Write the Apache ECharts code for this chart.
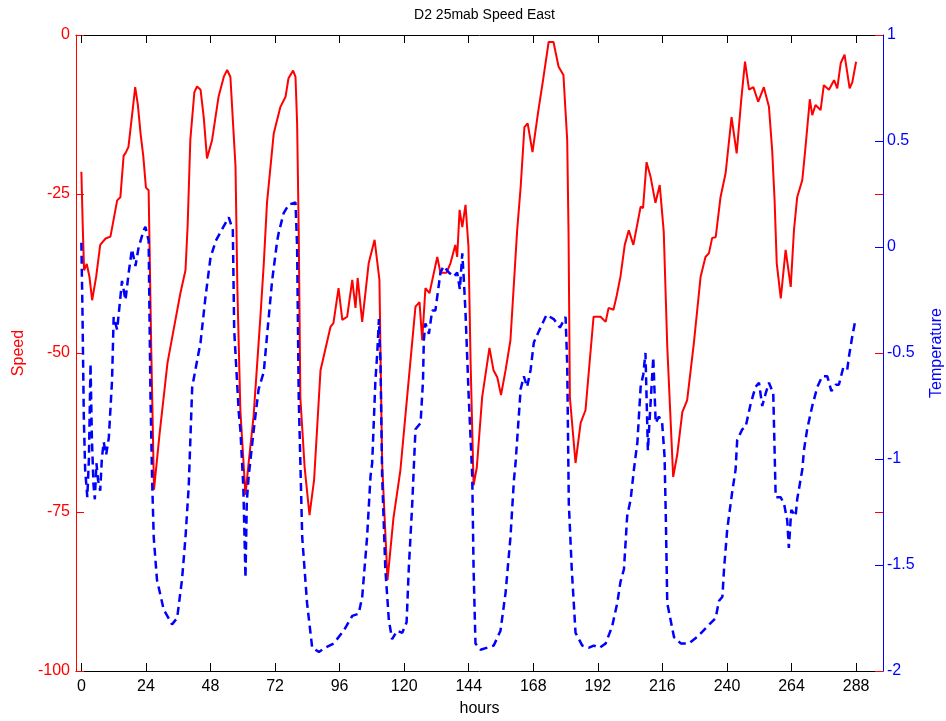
<!DOCTYPE html>
<html><head><meta charset="utf-8">
<script src="https://cdn.jsdelivr.net/npm/echarts@6/dist/echarts.min.js"></script>
<style>html,body{margin:0;padding:0;background:#fff}#c{width:946px;height:721px}</style>
</head><body><div id="c"></div><script>
const chartTitle = 'D2 25mab Speed East';
const xTicks = [0,24,48,72,96,120,144,168,192,216,240,264,288];

const speedHours = [0,0.5,1,2,3,4,5.5,7,9,10.8,12,13.3,14.5,15.7,16.5,17.5,19,20,21,22,23,24,25,26,27,29,32,34,36.8,38.7,39.5,40.5,42,43,44.3,45.5,46.7,48.6,51,53,54.2,55.4,56.6,57.3,58,59.1,61,62,64,66.6,67.8,69,71.5,74,75.9,77,78.7,79.6,80.2,80.8,81.4,83,84.8,86.5,88.9,92.6,93.7,95.6,97,98.8,100.7,101.9,102.7,104.4,106.8,109,110.8,111.8,113.8,116,118.6,121.1,124.2,125.7,126.7,127.9,129.4,132.3,133.5,135.7,137.2,139,139.7,140.6,141.6,142.8,143.9,144.7,145.8,147,149,151.7,153.2,154.6,156,157.7,159.5,162,163.3,164.7,165.9,167.7,169.9,171.8,173.7,175.5,177.4,179.2,180.6,181.1,181.6,183.7,185.6,187.4,190.4,193,194.9,196,197.8,199,200.4,202,203.5,205.2,207.9,208.8,210.1,211.6,213.4,215,215.9,216.5,217.8,220,221.5,223.4,225.2,227.7,230.2,232,233.3,234.5,235.8,237.6,239.5,241.7,243.6,245.3,246.7,248.2,249.8,251.6,253.7,255.6,256.8,257.7,258.5,260,261.8,263.7,264.9,266.1,268,269.2,270.8,271.7,272.9,274.8,276,277.9,279.8,281,282.3,283.7,285.6,286.6,288];
const speedValues = [-21.5,-30,-37,-36,-38,-41.7,-38,-33,-32,-31.7,-29,-26,-25.5,-19,-18.5,-17.6,-12,-8.2,-11,-15.5,-19,-24,-24.4,-50,-71.5,-63,-51.6,-47,-40.6,-37,-30,-16.5,-9,-8.1,-8.6,-13,-19.4,-16.5,-9.7,-6.5,-5.5,-6.6,-15.5,-20.7,-40,-59,-72.3,-68,-60,-44,-36,-26.4,-15.5,-11.3,-9.7,-6.8,-5.6,-6.6,-13.9,-31,-57,-68,-75.5,-70,-52.7,-45.9,-45.3,-39.8,-44.8,-44.3,-38.5,-42.9,-38.2,-45.1,-35.9,-32.2,-38.5,-67.3,-85.7,-76,-68.4,-56.9,-42.7,-42,-48,-39.8,-40.6,-34.9,-37.4,-37.4,-35.9,-33,-34.9,-27.5,-30.2,-26.7,-33.3,-51.6,-70.8,-68,-56.9,-49.2,-52.7,-53.8,-56.6,-52.7,-48,-30.7,-23.9,-14.5,-13.9,-18.4,-11.8,-6.6,-1.1,-1.1,-5,-6.3,-16.5,-31,-57,-67.3,-61,-59,-44.3,-44.3,-45.1,-42.9,-43.2,-41,-38,-33,-30.7,-33,-27,-27.2,-20,-22.3,-26.4,-23.6,-28,-31,-49,-69.5,-66,-59.3,-57.4,-48.4,-38,-34.9,-34.3,-31.9,-31.8,-25.5,-21.7,-12.9,-18.6,-10.2,-4.2,-8.6,-8.2,-10.5,-8.2,-11.3,-18.1,-26,-35.9,-41.4,-33.8,-39.6,-30.7,-25.5,-22.8,-17.6,-10.1,-12.6,-11,-11.8,-7.9,-8.6,-7.1,-8.4,-4.4,-3.1,-8.4,-7.4,-4.2];

const tempHours = [0,0.4,0.9,1.4,2.2,2.8,3.4,3.9,4.5,5,5.6,6.2,7,7.6,8.3,9.2,10.2,11.4,12,13.3,15.1,16.4,17.6,18.8,20.1,21.3,23.2,23.8,25,25.3,25.7,26.3,26.9,28.1,30.6,33.7,35.6,37.4,38.7,39.9,41.2,44.3,46.1,48,50,51.7,54.8,56.3,56.8,58.5,59.1,60.2,61,61.5,62.2,64.1,65.9,67.8,69,70.9,72.8,73.4,75.2,77.1,79.6,80.2,80.8,82.1,83.9,85.8,88.3,90.7,93.8,97.5,100.7,103.1,104.4,106.2,107.5,108.1,109.3,110,110.6,111.2,111.8,113,114.3,115.5,117.4,119.3,120.9,121.7,123,124.2,126.1,127,127.3,127.9,129.2,130.4,131.6,133.5,134.7,136.6,138.4,139.7,140.7,141.6,142.2,142.8,144,145.3,145.8,146.5,148.4,150.9,153.3,155.8,157.7,159.5,160.8,161.4,163.3,164.5,165.7,167,168.2,170.7,172.9,175.6,177.9,180,180.6,181.2,182.3,183.7,186.2,188.7,190.5,192.7,194.9,197.3,199.2,200.4,201.7,202.9,204.2,205.4,206.7,207.9,208.9,209.7,210.6,211.3,212.6,213.5,214.7,215.9,216.8,217.3,217.8,220.3,222.8,225.8,228.9,232.7,235.8,237,238.3,238.9,240.1,242,243.2,243.8,245.7,246.9,248.8,250.6,251.9,253.1,254.4,255.6,257.2,257.7,258.1,259.9,261.2,262.4,263,263.9,265.5,266.1,268,268.6,269.8,271.7,273.6,275.4,277.3,278.8,280.4,281.6,283.2,284.7,285.3,286.6,287.8];
const tempValues = [0.02,-0.3,-0.8,-1.05,-1.18,-1.0,-0.55,-0.9,-1.12,-1.19,-1.02,-1.1,-1.15,-1.0,-0.92,-0.98,-0.9,-0.63,-0.33,-0.39,-0.16,-0.25,-0.12,-0.01,-0.09,0,0.08,0.095,0.03,-0.3,-0.71,-1.1,-1.37,-1.57,-1.71,-1.78,-1.75,-1.57,-1.37,-1.13,-0.66,-0.45,-0.24,-0.05,0.03,0.07,0.14,0.08,-0.39,-0.78,-0.86,-1.13,-1.56,-1.2,-1.08,-0.86,-0.67,-0.59,-0.42,-0.16,0.03,0.07,0.16,0.2,0.21,0,-0.71,-1.37,-1.68,-1.89,-1.91,-1.89,-1.87,-1.81,-1.74,-1.73,-1.65,-1.37,-1.08,-1.02,-0.63,-0.5,-0.34,-0.55,-1.08,-1.52,-1.76,-1.85,-1.81,-1.82,-1.77,-1.52,-1.21,-0.86,-0.83,-0.63,-0.44,-0.36,-0.41,-0.3,-0.3,-0.12,-0.09,-0.12,-0.14,-0.12,-0.2,-0.03,-0.16,-0.31,-0.71,-1.08,-1.52,-1.87,-1.9,-1.89,-1.88,-1.81,-1.63,-1.37,-1.1,-1.02,-0.67,-0.61,-0.66,-0.58,-0.45,-0.38,-0.32,-0.34,-0.38,-0.33,-0.55,-1.21,-1.52,-1.82,-1.88,-1.89,-1.88,-1.89,-1.87,-1.79,-1.68,-1.58,-1.52,-1.27,-1.19,-1.05,-0.92,-0.66,-0.6,-0.5,-0.96,-0.8,-0.52,-0.83,-0.8,-0.83,-0.99,-1.3,-1.68,-1.84,-1.87,-1.87,-1.84,-1.79,-1.75,-1.67,-1.65,-1.52,-1.33,-1.15,-1.05,-0.91,-0.86,-0.85,-0.74,-0.66,-0.64,-0.75,-0.69,-0.64,-0.69,-0.96,-1.18,-1.18,-1.21,-1.29,-1.42,-1.24,-1.27,-1.19,-1.05,-0.96,-0.86,-0.75,-0.66,-0.61,-0.61,-0.68,-0.65,-0.65,-0.57,-0.58,-0.52,-0.42,-0.34];

const FONT = 'Liberation Sans, Arial, sans-serif';
const RED = '#ff0000', BLUE = '#0000ff';
const speedData = speedHours.map((h, i) => [h, speedValues[i]]);
const tempData = tempHours.map((h, i) => [h, tempValues[i]]);

const chart = echarts.init(document.getElementById('c'), null, {renderer: 'canvas'});
chart.setOption({
  animation: false,
  backgroundColor: '#fff',
  textStyle: {fontFamily: FONT},
  title: {text: chartTitle, left: 479.5, textAlign: 'center', top: 3,
    textStyle: {fontFamily: FONT, fontSize: 14, fontWeight: 'normal', color: '#000'}},
  grid: {left: 76, right: 63, top: 35, bottom: 50, containLabel: false, outerBoundsMode: 'none'},
  xAxis: [
    {type: 'value', position: 'bottom', min: -2, max: 298,
     axisLine: {show: true, onZero: false, lineStyle: {color: '#000', width: 1}},
     axisTick: {show: true, inside: true, length: 8, customValues: xTicks, lineStyle: {color: '#000'}},
     axisLabel: {customValues: xTicks, color: '#000', fontSize: 16, margin: 8, fontFamily: FONT},
     splitLine: {show: false},
     name: 'hours', nameLocation: 'middle', nameGap: 30,
     nameTextStyle: {color: '#000', fontSize: 16, fontFamily: FONT}},
    {type: 'value', position: 'top', min: -2, max: 298,
     axisLine: {show: true, onZero: false, lineStyle: {color: '#000', width: 1}},
     axisTick: {show: true, inside: true, length: 8, customValues: xTicks, lineStyle: {color: '#000'}},
     axisLabel: {show: true, customValues: xTicks, formatter: () => ''}, splitLine: {show: false}}
  ],
  yAxis: [
    {type: 'value', position: 'left', min: -100, max: 0, interval: 25,
     axisLine: {show: true, onZero: false, lineStyle: {color: RED, width: 1}},
     axisTick: {show: true, inside: true, length: 8, lineStyle: {color: RED}},
     axisLabel: {color: RED, fontSize: 16, margin: 6, fontFamily: FONT},
     splitLine: {show: false},
     name: 'Speed', nameLocation: 'middle', nameGap: 47,
     nameTextStyle: {color: RED, fontSize: 16, fontFamily: FONT}},
    {type: 'value', position: 'right', min: -2, max: 1, interval: 0.5,
     axisLine: {show: true, onZero: false, lineStyle: {color: BLUE, width: 1}},
     axisTick: {show: true, inside: true, length: 8, lineStyle: {color: BLUE}},
     axisLabel: {color: BLUE, fontSize: 16, margin: 4, fontFamily: FONT},
     splitLine: {show: false},
     name: 'Temperature', nameLocation: 'middle', nameGap: 46,
     nameTextStyle: {color: BLUE, fontSize: 16, fontFamily: FONT}},
    {type: 'value', position: 'right', min: -100, max: 0, interval: 25,
     axisLine: {show: false, onZero: false},
     axisTick: {show: true, inside: true, length: 8, lineStyle: {color: RED}},
     axisLabel: {show: false}, splitLine: {show: false}}
  ],
  series: [
    {type: 'line', name: 'Speed', xAxisIndex: 0, yAxisIndex: 0, data: speedData,
     showSymbol: false, symbol: 'none', lineStyle: {color: RED, width: 2}, z: 2},
    {type: 'line', name: 'Temperature', xAxisIndex: 0, yAxisIndex: 1, data: tempData,
     showSymbol: false, symbol: 'none', lineStyle: {color: BLUE, width: 2.5, type: [8, 5]}, z: 3}
  ]
});
</script></body></html>
